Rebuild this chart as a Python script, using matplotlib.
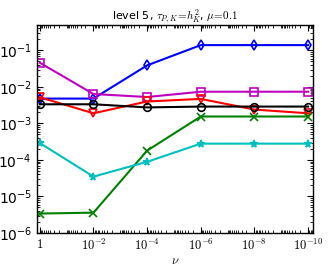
import matplotlib
matplotlib.use("Agg")
import matplotlib.pyplot as plt
import numpy as np

nu = [1, 1e-2, 1e-4, 1e-6, 1e-8, 1e-10]
xtick_labels = [r"$1$", r"$10^{-2}$", r"$10^{-4}$", r"$10^{-6}$", r"$10^{-8}$", r"$10^{-10}$"]

blue = [4.8e-3, 4.8e-3, 3.9e-2, 1.4e-1, 1.4e-1, 1.4e-1]
magenta = [4.6e-2, 6.4e-3, 5.3e-3, 7.4e-3, 7.4e-3, 7.4e-3]
red = [5.2e-3, 1.9e-3, 4.0e-3, 4.7e-3, 2.4e-3, 1.9e-3]
black = [3.35e-3, 3.35e-3, 2.75e-3, 2.9e-3, 2.9e-3, 2.9e-3]
green = [3.4e-6, 3.6e-6, 1.8e-4, 1.55e-3, 1.55e-3, 1.55e-3]
cyan = [2.9e-4, 3.5e-5, 8.9e-5, 2.8e-4, 2.8e-4, 2.8e-4]

fig = plt.figure(figsize=(3.32, 2.77), dpi=100)
ax = fig.add_axes([0.111, 0.159, 0.832, 0.751])

kw = dict(lw=1.5, ms=5.5, mfc="none", mew=1.2)
ax.plot(nu, blue, color="b", marker="d", **kw)
ax.plot(nu, magenta, color="m", marker="s", **kw)
ax.plot(nu, red, color="r", marker="v", **kw)
ax.plot(nu, black, color="k", marker="o", **kw)
ax.plot(nu, green, color="g", marker="x", **kw)
ax.plot(nu, cyan, color="c", marker="*", **kw)

ax.set_xscale("log")
ax.set_yscale("log")
ax.set_xlim(1.29, 6.5e-11)
ax.set_ylim(1e-6, 0.5)
ax.set_xticks(nu)
ax.set_xticklabels(xtick_labels, math_fontfamily="cm", fontsize=9)
ax.set_yticks([1e-6, 1e-5, 1e-4, 1e-3, 1e-2, 1e-1])
ax.set_yticklabels([r"$10^{-6}$", r"$10^{-5}$", r"$10^{-4}$", r"$10^{-3}$", r"$10^{-2}$", r"$10^{-1}$"],
                   math_fontfamily="dejavusans", fontsize=10)
ax.xaxis.set_minor_locator(matplotlib.ticker.LogLocator(base=10, subs=np.arange(1, 10), numticks=100))
ax.xaxis.set_minor_formatter(matplotlib.ticker.NullFormatter())
ax.tick_params(which="both", direction="in", top=True, right=True)
ax.tick_params(which="major", length=4)
ax.tick_params(which="minor", length=2)
for s in ax.spines.values():
    s.set_linewidth(1.0)

ax.set_xlabel(r"$\nu$", math_fontfamily="cm", fontsize=9, labelpad=1)
ax.set_title(r"level 5, $\tau_{P,K}\!=\!h_K^2$, $\mu\!=\!0.1$", math_fontfamily="cm", fontsize=8, pad=3)

fig.savefig("out.png", dpi=100)
